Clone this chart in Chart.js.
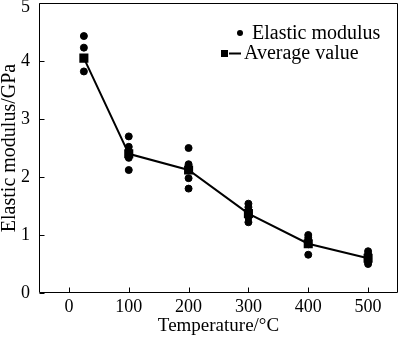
<!DOCTYPE html>
<html>
<head>
<meta charset="utf-8">
<script src="https://cdn.jsdelivr.net/npm/chart.js@4"></script>
<style>
  html, body { margin: 0; background: #fff; overflow: hidden; }
  canvas { display: block; }
</style>
</head>
<body>
<canvas id="chart" width="400" height="337"></canvas>
<script>
// temperatures (°C) and measured elastic modulus (GPa)
const temps = [25, 100, 200, 300, 400, 500];
const samples = [
    [4.43, 4.23, 3.82],
    [2.70, 2.52, 2.45, 2.33, 2.12],
    [2.50, 2.22, 1.98, 1.80],
    [1.54, 1.48, 1.39, 1.30, 1.22],
    [1.00, 0.95, 0.90, 0.84, 0.66],
    [0.72, 0.67, 0.60, 0.54, 0.50]
];
const averages = [4.05, 2.40, 2.12, 1.37, 0.85, 0.60];
const xTicks = [0, 100, 200, 300, 400, 500];
const yTicks = [0, 1, 2, 3, 4, 5];

const FONT = '"Liberation Serif", "Times New Roman", serif';

const points = [];
temps.forEach((t, i) => samples[i].forEach(v => points.push({ x: t, y: v })));
const avgPoints = temps.map((t, i) => ({ x: t, y: averages[i] }));

const frame = {
    id: 'frame',
    afterDraw(chart) {
        const { ctx, chartArea: a, scales } = chart;
        const l = Math.round(a.left) + 0.5, r = Math.round(a.right) - 0.5;
        const t = Math.round(a.top) + 0.5, b = Math.round(a.bottom) - 0.5;
        ctx.save();
        ctx.strokeStyle = '#000';
        ctx.lineWidth = 1;
        ctx.beginPath();
        ctx.moveTo(l, t); ctx.lineTo(r, t);
        ctx.moveTo(r, t); ctx.lineTo(r, b);
        ctx.moveTo(r, b); ctx.lineTo(l, b);
        ctx.moveTo(l, b); ctx.lineTo(l, t);
        // inward ticks
        xTicks.forEach(v => {
            const x = Math.round(scales.x.getPixelForValue(v)) + 0.5;
            ctx.moveTo(x, b);
            ctx.lineTo(x, b - 5);
        });
        yTicks.forEach(v => {
            const y = Math.round(scales.y.getPixelForValue(v)) + 0.5;
            ctx.moveTo(l, y);
            ctx.lineTo(l + 5, y);
        });
        ctx.stroke();

        // legend, placed relative to the plot top
        const top = a.top;
        ctx.fillStyle = '#000';
        ctx.font = '20px ' + FONT;
        ctx.textBaseline = 'middle';
        ctx.beginPath();
        ctx.arc(240, top + 30, 3, 0, Math.PI * 2);
        ctx.fill();
        ctx.fillText('Elastic modulus', 252, top + 31);
        ctx.fillRect(221, top + 47, 7, 7);
        ctx.lineWidth = 2;
        ctx.beginPath();
        ctx.moveTo(229, top + 50.5);
        ctx.lineTo(241, top + 50.5);
        ctx.stroke();
        ctx.fillText('Average value', 244, top + 51);
        ctx.restore();
    }
};

function build(canvas) {
    return new Chart(canvas, {
        type: 'scatter',
        data: {
            datasets: [
                {
                    label: 'Average value',
                    data: avgPoints,
                    showLine: true,
                    borderColor: '#000',
                    borderWidth: 2,
                    backgroundColor: '#000',
                    pointStyle: 'rect',
                    pointRadius: 5,
                    order: 1
                },
                {
                    label: 'Elastic modulus',
                    data: points,
                    backgroundColor: '#000',
                    borderColor: '#000',
                    pointStyle: 'circle',
                    pointRadius: 3.5,
                    order: 0
                }
            ]
        },
        options: {
            responsive: false,
            animation: false,
            layout: { padding: 0 },
            plugins: { legend: { display: false }, tooltip: { enabled: false } },
            scales: {
                x: {
                    type: 'linear',
                    min: -50,
                    max: 550,
                    afterBuildTicks: s => { s.ticks = xTicks.map(v => ({ value: v })); },
                    afterFit: s => { s.height = 44; },
                    grid: { display: false, drawTicks: false },
                    border: { display: false },
                    ticks: { color: '#000', font: { family: FONT, size: 18 }, padding: 3 },
                    title: {
                        display: true, text: 'Temperature/°C', color: '#000',
                        font: { family: FONT, size: 19 }, padding: { top: 0, bottom: 0 }
                    }
                },
                y: {
                    min: 0,
                    max: 5,
                    afterBuildTicks: s => { s.ticks = yTicks.map(v => ({ value: v })); },
                    afterFit: s => { s.width = 39; },
                    grid: { display: false, drawTicks: false },
                    border: { display: false },
                    ticks: {
                        color: '#000',
                        padding: 9,
                        // the top label sits a little below its tick so it stays on the page
                        callback: v => (v === 5 ? ['', '5'] : v),
                        font: c => ({
                            family: FONT, size: 18,
                            lineHeight: c.tick && c.tick.value === 5 ? 0.5 : 1.2
                        })
                    },
                    title: {
                        display: true, text: 'Elastic modulus/GPa', color: '#000',
                        font: { family: FONT, size: 20, lineHeight: 1 }, padding: { top: 0, bottom: 0 }
                    }
                }
            }
        },
        plugins: [frame]
    });
}

// first pass measures the padding Chart.js keeps round the plot,
// then the canvas is sized so the plot box lands at 39..398 x 3..293
const canvas = document.getElementById('chart');
let chart = build(canvas);
const shift = chart.chartArea.top - 3;
const padRight = chart.width - chart.chartArea.right;
chart.destroy();
canvas.width = 398 + padRight;
canvas.height = 337 + shift;
canvas.style.marginTop = (-shift) + 'px';
chart = build(canvas);
</script>
</body>
</html>
